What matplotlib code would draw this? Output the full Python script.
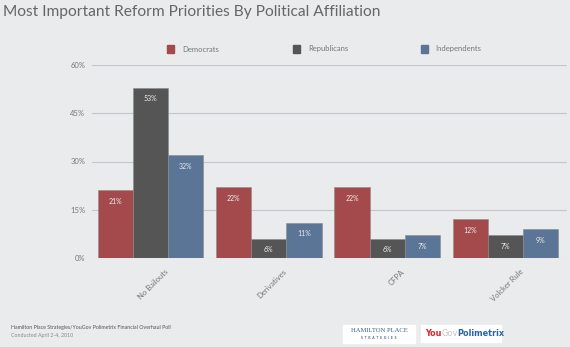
import matplotlib.pyplot as plt
import matplotlib.transforms as mtransforms
import numpy as np

categories = ["No Bailouts", "Derivatives", "CFPA", "Volcker Rule"]
series_names = ["Democrats", "Republicans", "Independents"]
democrats = [21, 22, 22, 12]
republicans = [53, 6, 6, 7]
independents = [32, 11, 7, 9]
yticks = [0, 15, 30, 45, 60]

colors = ["#a44a4c", "#555555", "#5a7596"]
bg = "#eaebed"

fig = plt.figure(figsize=(5.7, 3.47), dpi=100, facecolor=bg)
ax = fig.add_axes([92 / 570, 1 - 258 / 347, (567 - 92) / 570, (258 - 65) / 347])
ax.set_facecolor(bg)

x = np.arange(len(categories))
w = 0.297
for i, (vals, name, c) in enumerate(zip([democrats, republicans, independents], series_names, colors)):
    pos = x + (i - 1) * w
    ax.bar(pos, vals, width=w, color=c, edgecolor="#8a8a8a", linewidth=0.4, zorder=3, label=name)
    for px, v in zip(pos, vals):
        ax.annotate(f"{v}%", (px, v), xytext=(0, -8), textcoords="offset points",
                    ha="center", va="center", fontsize=5, color="#ececec",
                    family="Lato", zorder=4)

ax.set_xlim(-0.495, 3.52)
ax.set_ylim(0, 60)
ax.set_yticks(yticks)
ax.set_yticklabels([f"{t}%" for t in yticks], fontsize=5.5, color="#777777", family="Lato")
ax.yaxis.grid(True, color="#c4c6c9", linewidth=0.8, zorder=0)
ax.tick_params(axis="y", length=0, pad=5)
ax.tick_params(axis="x", length=0)
for s in ax.spines.values():
    s.set_visible(False)

ax.set_xticks(x)
ax.set_xticklabels(categories, rotation=45, ha="right", rotation_mode="anchor",
                   fontsize=5.5, color="#777777", family="Lato")
shift = mtransforms.ScaledTranslation(14 / 100, -5 / 100, fig.dpi_scale_trans)
for lbl in ax.get_xticklabels():
    lbl.set_transform(lbl.get_transform() + shift)

# legend row
for name, c, lx in zip(series_names, colors, [171, 297, 424]):
    fig.patches.append(plt.Rectangle((lx / 570 - 3.5 / 570, 1 - 52.5 / 347), 7 / 570, 7 / 347,
                                     transform=fig.transFigure, color=c))
    fig.text((lx + 11) / 570, 1 - 49 / 347, name, fontsize=5.5, color="#777777",
             va="center", family="Lato")

fig.text(3 / 570, 1 - 12 / 347, "Most Important Reform Priorities By Political Affiliation",
         fontsize=11.2, color="#666666", va="center", family="Lato")

fig.text(11 / 570, 1 - 327 / 347, "Hamilton Place Strategies/YouGov Polimetrix Financial Overhaul Poll",
         fontsize=3.8, color="#555555", va="center", family="Lato")
fig.text(11 / 570, 1 - 335 / 347, "Conducted April 2-4, 2010",
         fontsize=3.8, color="#888888", va="center", family="Lato")

# logo boxes
fig.patches.append(plt.Rectangle((343 / 570, 1 - 343 / 347), 72 / 570, 18 / 347,
                                 transform=fig.transFigure, color="white", zorder=1))
fig.text(379 / 570, 1 - 331 / 347, "HAMILTON PLACE", fontsize=4.8, color="#3b5f8a",
         ha="center", va="center", family="Liberation Serif")
fig.text(379 / 570, 1 - 338 / 347, "S  T  R  A  T  E  G  I  E  S", fontsize=2.4,
         color="#3b5f8a", ha="center", va="center", family="Lato", fontweight="bold")
fig.patches.append(plt.Rectangle((421 / 570, 1 - 342 / 347), 80 / 570, 17 / 347,
                                 transform=fig.transFigure, color="white", zorder=1))
t = fig.text(425 / 570, 1 - 333.5 / 347, "You", fontsize=5.9, color="#d8262c",
             va="center", family="DejaVu Sans", fontweight="bold")
fig.canvas.draw()
r = fig.canvas.get_renderer()
bb = t.get_window_extent(r)
t2 = fig.text(bb.x1 / 570, 1 - 333.5 / 347, "Gov", fontsize=5.9, color="#c4c4c4",
              va="center", family="DejaVu Sans")
bb2 = t2.get_window_extent(r)
fig.text(bb2.x1 / 570, 1 - 333.5 / 347, "Polimetrix", fontsize=5.9, color="#2c63a8",
         va="center", family="DejaVu Sans", fontweight="bold")

fig.savefig("out.png", dpi=100, facecolor=bg)
